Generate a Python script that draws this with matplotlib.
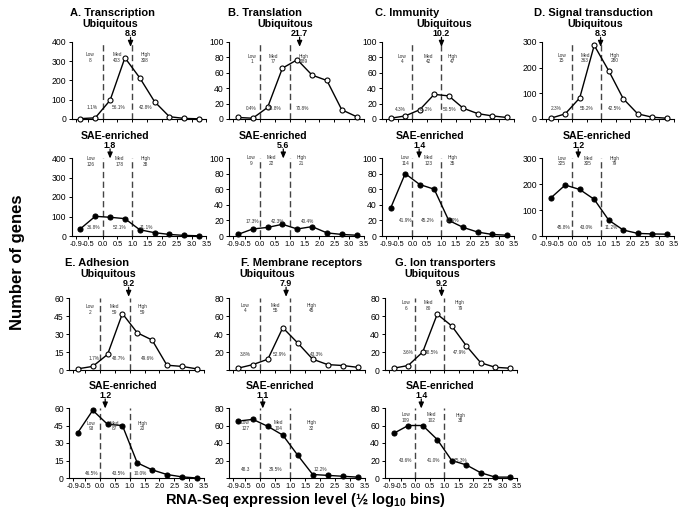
import matplotlib
matplotlib.use('Agg')
import matplotlib.pyplot as plt
from matplotlib import transforms

plt.rcParams['font.family'] = ['Liberation Sans', 'DejaVu Sans']
plt.rcParams['mathtext.fontset'] = 'custom'
plt.rcParams['mathtext.rm'] = 'Liberation Sans'
plt.rcParams['mathtext.bf'] = 'Liberation Sans:bold'

# ---------------- data ----------------
x_bins = [-0.75, -0.25, 0.25, 0.75, 1.25, 1.75, 2.25, 2.75, 3.25]
x_ticks = [-0.9, -0.5, 0.0, 0.5, 1.0, 1.5, 2.0, 2.5, 3.0, 3.5]
x_ticklabels = ['-0.9', '-0.5', '0.0', '0.5', '1.0', '1.5', '2.0', '2.5', '3.0', '3.5']

titles = ['A. Transcription', 'B. Translation', 'C. Immunity', 'D. Signal transduction',
          'E. Adhesion', 'F. Membrane receptors', 'G. Ion transporters']

A_ubiq = [2, 6, 97, 318, 214, 90, 12, 3, 1]
A_sae = [37, 101, 96, 89, 32, 17, 8, 3, 1]
B_ubiq = [2, 1, 15, 66, 77, 57, 50, 12, 3]
B_sae = [2, 9, 11, 15, 9, 12, 4, 2, 1]
C_ubiq = [1, 4, 12, 32, 30, 14, 7, 4, 2]
C_sae = [36, 80, 66, 60, 20, 11, 5, 2, 1]
D_ubiq = [3, 20, 82, 287, 188, 79, 20, 7, 3]
D_sae = [146, 196, 179, 141, 61, 23, 10, 8, 7]
E_ubiq = [1, 3, 13, 47, 31, 25, 4, 3, 1]
E_sae = [39, 58, 46, 45, 13, 7, 3, 1, 0]
F_ubiq = [2, 6, 12, 47, 30, 12, 6, 5, 3]
F_sae = [65, 67, 59, 49, 26, 4, 3, 2, 1]
G_ubiq = [2, 5, 20, 62, 49, 27, 8, 3, 2]
G_sae = [51, 60, 60, 44, 20, 15, 6, 1, 1]

ubiq_series = [A_ubiq, B_ubiq, C_ubiq, D_ubiq, E_ubiq, F_ubiq, G_ubiq]
sae_series = [A_sae, B_sae, C_sae, D_sae, E_sae, F_sae, G_sae]

y_max = [400, 100, 100, 300, 60, 80, 80]
y_step = [100, 20, 20, 100, 15, 20, 20]
hide_zero_label = [False, False, False, False, False, True, False]

group_names = ['Low', 'Med', 'High']
ubiq_counts = [[8, 403, 308], [1, 77, 189], [4, 42, 47], [15, 363, 280],
               [2, 59, 59], [4, 55, 45], [6, 80, 79]]
sae_counts = [[126, 178, 38], [9, 22, 21], [114, 123, 35], [325, 305, 79],
              [93, 87, 20], [127, 104, 32], [109, 102, 38]]
ubiq_pct = [['1.1%', '56.1%', '42.8%'], ['0.4%', '28.8%', '70.8%'], ['4.3%', '45.2%', '50.5%'],
            ['2.3%', '55.2%', '42.5%'], ['1.7%', '48.7%', '49.6%'], ['3.8%', '52.9%', '43.3%'],
            ['3.6%', '48.5%', '47.9%']]
sae_pct = [['36.8%', '52.1%', '11.1%'], ['17.3%', '42.3%', '40.4%'], ['41.9%', '45.2%', '12.9%'],
           ['45.8%', '43.0%', '11.2%'], ['46.5%', '43.5%', '10.0%'], ['48.3', '39.5%', '12.2%'],
           ['43.6%', '41.0%', '15.3%']]

ubiq_arrow_label = ['8.8', '21.7', '10.2', '8.3', '9.2', '7.9', '9.2']
ubiq_arrow_x = [0.94, 1.33, 1.0, 0.97, 0.96, 0.86, 0.9]
sae_arrow_label = ['1.8', '5.6', '1.4', '1.2', '1.2', '1.1', '1.4']
sae_arrow_x = [0.25, 0.78, 0.23, 0.2, 0.17, 0.08, 0.2]
bounds = [0.0, 1.0]

# ---------------- layout (pixels) ----------------
W, H = 685, 513
col_left = [71.5, 229, 382, 542, 69, 229, 385]
col_width = [135, 135, 132, 132, 135, 136, 132]
row_of = [0, 0, 0, 0, 1, 1, 1]
ubiq_box = [(42, 77), (298, 72)]
sae_box = [(158, 78), (408, 70)]
arrow_text_y = {('u', 0): 33.3, ('s', 0): 145, ('u', 1): 283.3, ('s', 1): 395}
title_xy = [(112, 12.7), (265, 12.7), (407, 12.7), (593, 12.7), (97, 262.7), (302, 262.7), (445, 262.7)]
ubiq_xy = [(110, 24.3), (285, 24.3), (444, 24.3), (595, 24.3), (108, 274.3), (267, 274.3), (432, 274.3)]
sae_xy = [(115, 136), (273, 136), (430, 136), (597, 136), (123, 386), (280, 386), (440, 386)]

lab_x_ubiq = [[-0.43, 0.48, 1.43], [-0.28, 0.45, 1.45], [-0.35, 0.54, 1.37], [-0.37, 0.44, 1.45],
              [-0.33, 0.48, 1.42], [-0.5, 0.5, 1.72], [-0.33, 0.43, 1.53]]
lab_y_ubiq = [0.80, 0.78, 0.78, 0.79, 0.84, 0.86, 0.90]
lab_x_sae = [[-0.4, 0.56, 1.45], [-0.3, 0.39, 1.39], [-0.25, 0.54, 1.37], [-0.37, 0.54, 1.45],
             [-0.3, 0.48, 1.43], [-0.5, 0.61, 1.72], [-0.33, 0.55, 1.55]]
lab_y_sae = [0.955, 0.965, 0.965, 0.96, 0.74, 0.75, 0.86]
pct_x_ubiq = [[-0.36, 0.52, 1.45], [-0.3, 0.5, 1.42], [-0.43, 0.44, 1.29], [-0.57, 0.48, 1.45],
              [-0.22, 0.64, 1.59], [-0.5, 0.64, 1.89], [-0.24, 0.55, 1.52]]
pct_y_ubiq = [0.15, 0.14, 0.12, 0.13, 0.155, 0.21, 0.25]
pct_x_sae = [[-0.32, 0.56, 1.48], [-0.28, 0.59, 1.6], [-0.25, 0.51, 1.37], [-0.31, 0.5, 1.33],
             [-0.3, 0.61, 1.34], [-0.5, 0.5, 2.0], [-0.33, 0.61, 1.55]]
pct_y_sae = [0.105, 0.19, 0.2, 0.11, 0.06, 0.125, 0.25]

fig = plt.figure(figsize=(W / 100, H / 100), dpi=100)


def fx(px):
    return px / W


def fy(py):
    return 1 - py / H


def make_ax(left, top, width, height):
    return fig.add_axes([fx(left), fy(top + height), width / W, height / H])


def draw(ax, i, series, filled, counts, pct, labx, laby, pctx, pcty, arrow_x, arrow_lab, ty, show_xlabels):
    ax.plot(x_bins, series, '-o', color='black', lw=1.0, ms=3.6,
            mfc='black' if filled else 'white', mec='black', mew=0.8, clip_on=False, zorder=3)
    for b in bounds:
        ax.axvline(b, color='#444444', lw=1.0, ls=(0, (4.5, 2.5)), zorder=1)
    ax.set_xlim(-1.05, 3.5)
    ax.set_ylim(0, y_max[i])
    yt = list(range(0, y_max[i] + 1, y_step[i]))
    ax.set_yticks(yt)
    ylabels = [str(v) for v in yt]
    if hide_zero_label[i]:
        ylabels[0] = ''
    ax.set_yticklabels(ylabels)
    ax.set_xticks(x_ticks)
    if show_xlabels:
        ax.set_xticklabels(x_ticklabels)
    else:
        ax.set_xticklabels([])
    for s in ['top', 'right']:
        ax.spines[s].set_visible(False)
    for s in ['left', 'bottom']:
        ax.spines[s].set_linewidth(0.8)
    ax.tick_params(direction='out', length=2.5, width=0.7, pad=1.2)
    ax.tick_params(axis='y', labelsize=6.2)
    ax.tick_params(axis='x', labelsize=5.3)
    tr = ax.get_xaxis_transform()
    for k in range(3):
        ax.text(labx[k], laby, f'{group_names[k]}\n{counts[k]}', transform=tr, ha='center', va='center',
                fontsize=3.4, color='#333333', linespacing=1.15)
        ax.text(pctx[k], pcty, pct[k], transform=tr, ha='center', va='center',
                fontsize=3.4, color='#333333')
    btr = transforms.blended_transform_factory(ax.transData, fig.transFigure)
    ax.text(arrow_x, fy(ty), arrow_lab, transform=btr, ha='center', va='center',
            fontsize=6.4, fontweight='bold')
    ax.annotate('', xy=(arrow_x, fy(ty + 13.5)), xycoords=btr,
                xytext=(arrow_x, fy(ty + 4)), textcoords=btr,
                arrowprops=dict(arrowstyle='-|>,head_length=0.35,head_width=0.15',
                                color='black', lw=0.9, shrinkA=0, shrinkB=0),
                annotation_clip=False)


for i in range(7):
    r = row_of[i]
    axu = make_ax(col_left[i], ubiq_box[r][0], col_width[i], ubiq_box[r][1])
    draw(axu, i, ubiq_series[i], False, ubiq_counts[i], ubiq_pct[i], lab_x_ubiq[i], lab_y_ubiq[i],
         pct_x_ubiq[i], pct_y_ubiq[i], ubiq_arrow_x[i], ubiq_arrow_label[i], arrow_text_y[('u', r)], False)
    axs = make_ax(col_left[i], sae_box[r][0], col_width[i], sae_box[r][1])
    draw(axs, i, sae_series[i], True, sae_counts[i], sae_pct[i], lab_x_sae[i], lab_y_sae[i],
         pct_x_sae[i], pct_y_sae[i], sae_arrow_x[i], sae_arrow_label[i], arrow_text_y[('s', r)], True)
    fig.text(fx(title_xy[i][0]), fy(title_xy[i][1]), titles[i], ha='center', va='center',
             fontsize=8.0, fontweight='bold')
    fig.text(fx(ubiq_xy[i][0]), fy(ubiq_xy[i][1]), 'Ubiquitous', ha='center', va='center',
             fontsize=7.7, fontweight='bold')
    fig.text(fx(sae_xy[i][0]), fy(sae_xy[i][1]), 'SAE-enriched', ha='center', va='center',
             fontsize=7.6, fontweight='bold')

fig.text(fx(18), fy(262), 'Number of genes', rotation=90, ha='center', va='center',
         fontsize=12, fontweight='bold')
fig.text(fx(305), fy(500), r'RNA-Seq expression level (½ log$_{\mathbf{10}}$ bins)', ha='center', va='center',
         fontsize=10.5, fontweight='bold')

fig.savefig('out.png', dpi=100)
